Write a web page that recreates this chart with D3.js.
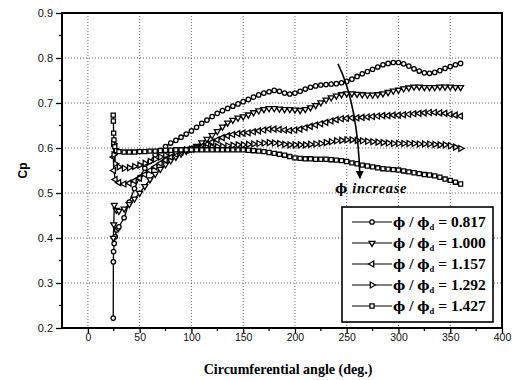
<!DOCTYPE html>
<html><head><meta charset="utf-8">
<script src="https://cdn.jsdelivr.net/npm/d3@7/dist/d3.min.js"></script>
<style>
html,body{margin:0;padding:0;background:#fff;}
svg{display:block;}
</style></head>
<body>
<script>
// ---------- DATA ----------
const xTicks = [0, 50, 100, 150, 200, 250, 300, 350, 400];
const yTicks = [0.2, 0.3, 0.4, 0.5, 0.6, 0.7, 0.8, 0.9];
const seriesLabels = ["0.817", "1.000", "1.157", "1.292", "1.427"];
const markerTypes = ["circle", "triDown", "triLeft", "triRight", "square"];

const angleGrid = [
  30,35,40,45,50,55,60,65,70,75,
  80,85,90,95,100,105,110,115,120,125,
  130,135,140,145,150,155,160,165,170,175,
  180,185,190,195,200,205,210,215,220,225,
  230,235,240,245,250,255,260,265,270,275,
  280,285,290,295,300,305,310,315,320,325,
  330,335,340,345,350,355,360];

// leading points at the tongue (~25 deg)
const startAngles0817 = [24.5, 24.6, 24.8, 25.4, 26.4, 27.8, 29.2];
const startCp0817     = [0.222, 0.347, 0.370, 0.388, 0.403, 0.418, 0.422];
const startAngles1000 = [24.6, 25.0, 25.5, 27.5];
const startCp1000     = [0.400, 0.430, 0.473, 0.462];
const startAngles1157 = [24.6, 25.0, 26.5];
const startCp1157     = [0.580, 0.550, 0.530];
const startAngles1292 = [24.6, 25.0, 26.5];
const startCp1292     = [0.610, 0.585, 0.565];
const startAngles1427 = [24.5, 24.6, 24.9, 25.2, 26.0, 27.5];
const startCp1427     = [0.673, 0.660, 0.633, 0.618, 0.603, 0.594];

const cp0817 = [
  .425,.445,.480,.510,.535,.555,.570,.585,.595,.603,
  .611,.617,.624,.631,.638,.646,.655,.662,.670,.677,
  .683,.688,.693,.698,.703,.708,.713,.718,.722,.725,
  .728,.726,.722,.720,.722,.726,.731,.735,.738,.740,
  .741,.742,.743,.745,.748,.753,.759,.765,.770,.775,
  .780,.785,.788,.790,.790,.787,.782,.776,.771,.767,
  .766,.768,.772,.777,.781,.785,.788];
const cp1000 = [
  .460,.465,.475,.487,.500,.515,.530,.542,.553,.563,
  .572,.580,.587,.593,.598,.604,.612,.620,.628,.637,
  .647,.656,.662,.667,.670,.674,.679,.683,.686,.688,
  .688,.687,.686,.686,.685,.684,.686,.690,.695,.701,
  .707,.712,.716,.719,.721,.721,.720,.719,.718,.718,
  .719,.721,.724,.727,.729,.732,.734,.736,.736,.735,
  .735,.735,.736,.736,.736,.735,.735];
const cp1157 = [
  .523,.520,.522,.527,.533,.541,.550,.558,.566,.573,
  .580,.586,.591,.595,.598,.601,.604,.608,.613,.618,
  .623,.627,.630,.632,.633,.634,.636,.638,.640,.642,
  .642,.641,.640,.639,.640,.642,.645,.648,.651,.654,
  .657,.660,.663,.665,.666,.667,.667,.668,.669,.670,
  .671,.672,.672,.673,.673,.674,.675,.676,.677,.678,
  .679,.679,.678,.677,.675,.673,.671];
const cp1292 = [
  .558,.555,.556,.559,.562,.566,.570,.575,.580,.584,
  .588,.591,.594,.596,.597,.599,.600,.601,.602,.603,
  .604,.605,.606,.607,.607,.608,.609,.610,.611,.612,
  .611,.610,.608,.607,.607,.607,.607,.608,.609,.610,
  .612,.614,.616,.617,.618,.618,.617,.616,.615,.614,
  .613,.612,.611,.610,.610,.610,.610,.610,.609,.609,
  .609,.608,.607,.607,.605,.602,.599];
const cp1427 = [
  .592,.591,.591,.591,.592,.592,.593,.593,.594,.595,
  .595,.596,.596,.596,.596,.596,.596,.596,.596,.596,
  .596,.596,.596,.596,.596,.595,.594,.593,.592,.590,
  .588,.586,.584,.581,.578,.577,.576,.576,.575,.575,
  .575,.574,.573,.572,.570,.567,.565,.562,.560,.558,
  .556,.554,.553,.552,.551,.549,.547,.545,.543,.541,
  .540,.538,.535,.531,.528,.524,.520];

// annotation anchors (data units)
const arrowPath = [[241.6, 0.787], [260.9, 0.696], [262.8, 0.533]];
const annotationAt = [238.7, 0.500];

// ---------- BUILD ----------
const startA = [startAngles0817, startAngles1000, startAngles1157, startAngles1292, startAngles1427];
const startV = [startCp0817, startCp1000, startCp1157, startCp1292, startCp1427];
const mainV = [cp0817, cp1000, cp1157, cp1292, cp1427];
const series = mainV.map((vals, i) => ({
  label: seriesLabels[i],
  marker: markerTypes[i],
  points: startA[i].map((a, j) => [a, startV[i][j]]).concat(angleGrid.map((a, j) => [a, vals[j]]))
}));

const W = 517, H = 380;
const svg = d3.select("body").append("svg").attr("width", W).attr("height", H);

const x = d3.scaleLinear().domain([-25, 400]).range([62, 502]);
const y = d3.scaleLinear().domain([0.2, 0.9]).range([328, 13]);

const sans = "'Liberation Sans', Arial, sans-serif";
const serif = "'Liberation Serif', 'Times New Roman', serif";
const phiFont = "'DejaVu Serif', serif";

// gridlines
const grid = svg.append("g").attr("stroke", "#444").attr("stroke-width", 0.8).attr("stroke-dasharray", "1,2");
grid.selectAll("line.v").data(xTicks.filter(t => t > -25 && t < 400)).enter().append("line")
  .attr("x1", d => x(d)).attr("x2", d => x(d)).attr("y1", y(0.9)).attr("y2", y(0.2));
grid.selectAll("line.h").data(yTicks.filter(t => t > 0.2 && t < 0.9)).enter().append("line")
  .attr("y1", d => y(d)).attr("y2", d => y(d)).attr("x1", x(-25)).attr("x2", x(400));

// axes
const xMinor = d3.range(-25, 401, 25).filter(v => !xTicks.includes(v) && v > -25 && v < 400);
const yMinor = d3.range(0.25, 0.9, 0.1);

const gx = svg.append("g").attr("transform", `translate(0,${y(0.2)})`)
  .call(d3.axisBottom(x).tickValues(xTicks).tickSize(5).tickPadding(1).tickSizeOuter(0));
gx.select(".domain").remove();
gx.selectAll("text").attr("font-family", sans).attr("font-size", 10.5).attr("fill", "#111");
gx.selectAll("line").attr("stroke", "#000").attr("stroke-width", 1.3);
svg.append("g").selectAll("line").data(xMinor).enter().append("line")
  .attr("x1", d => x(d)).attr("x2", d => x(d)).attr("y1", y(0.2)).attr("y2", y(0.2) + 3)
  .attr("stroke", "#000").attr("stroke-width", 1.2);

const gy = svg.append("g").attr("transform", `translate(${x(-25)},0)`)
  .call(d3.axisLeft(y).tickValues(yTicks).tickFormat(d3.format(".1f")).tickSize(6).tickPadding(3).tickSizeOuter(0));
gy.select(".domain").remove();
gy.selectAll("text").attr("font-family", sans).attr("font-size", 11).attr("fill", "#111");
gy.selectAll("line").attr("stroke", "#000").attr("stroke-width", 1.3);
svg.append("g").selectAll("line").data(yMinor).enter().append("line")
  .attr("y1", d => y(d)).attr("y2", d => y(d)).attr("x1", x(-25) - 3).attr("x2", x(-25))
  .attr("stroke", "#000").attr("stroke-width", 1.2);

// frame
svg.append("rect").attr("x", x(-25)).attr("y", y(0.9)).attr("width", x(400) - x(-25)).attr("height", y(0.2) - y(0.9))
  .attr("fill", "none").attr("stroke", "#000").attr("stroke-width", 2);

// marker factory
function addMarker(sel, type) {
  if (type === "circle") {
    sel.append("circle").attr("r", 2.2);
  } else {
    const sym = type === "square" ? d3.symbolSquare : d3.symbolTriangle;
    const size = type === "square" ? 17 : 15;
    const rot = { triDown: 180, triLeft: -90, triRight: 90, square: 0 }[type];
    sel.append("path").attr("d", d3.symbol().type(sym).size(size)()).attr("transform", `rotate(${rot})`);
  }
}

const line = d3.line().x(d => x(d[0])).y(d => y(d[1]));
const plot = svg.append("g");
series.forEach(s => {
  plot.append("path").datum(s.points).attr("d", line)
    .attr("fill", "none").attr("stroke", "#000").attr("stroke-width", 1.3);
  const m = plot.append("g").attr("fill", "#fff").attr("stroke", "#000").attr("stroke-width", 1.3);
  m.selectAll("g").data(s.points).enter().append("g")
    .attr("transform", d => `translate(${x(d[0])},${y(d[1])})`)
    .each(function () { addMarker(d3.select(this), s.marker); });
});

// arrow annotation
const [p0, p1, p2] = arrowPath.map(d => [x(d[0]), y(d[1])]);
svg.append("defs").append("marker").attr("id", "ah").attr("viewBox", "0 0 10 10")
  .attr("refX", 9).attr("refY", 5).attr("markerWidth", 5).attr("markerHeight", 6).attr("orient", "auto")
  .append("path").attr("d", "M0,0 L10,5 L0,10 Z").attr("fill", "#000");
svg.append("path").attr("d", `M${p0[0]},${p0[1]} Q${p1[0]},${p1[1]} ${p2[0]},${p2[1]}`)
  .attr("fill", "none").attr("stroke", "#000").attr("stroke-width", 1.6).attr("marker-end", "url(#ah)");

const ann = svg.append("text").attr("x", x(annotationAt[0])).attr("y", y(annotationAt[1]))
  .attr("text-anchor", "start")
  .attr("font-family", serif).attr("font-weight", "bold").attr("font-size", 14.5).attr("fill", "#000");
ann.append("tspan").attr("font-family", phiFont).attr("font-size", 13).text("ϕ");
ann.append("tspan").attr("font-style", "italic").attr("dx", 5).attr("letter-spacing", 0.6).text("increase");

// legend
const lg = svg.append("g");
const lgX = 342, lgY = 207, lgW = 151, lgH = 115;
lg.append("rect").attr("x", lgX).attr("y", lgY).attr("width", lgW).attr("height", lgH)
  .attr("fill", "#fff").attr("stroke", "#000").attr("stroke-width", 1.6);
series.forEach((s, i) => {
  const cy = lgY + 15 + i * 21;
  lg.append("line").attr("x1", lgX + 10).attr("x2", lgX + 50).attr("y1", cy).attr("y2", cy)
    .attr("stroke", "#000").attr("stroke-width", 1.2);
  const mg = lg.append("g").attr("transform", `translate(${lgX + 30},${cy})`)
    .attr("fill", "#fff").attr("stroke", "#000").attr("stroke-width", 1.3);
  addMarker(mg, s.marker);
  const t = lg.append("text").attr("x", lgX + 51).attr("y", cy + 5)
    .attr("font-family", serif).attr("font-weight", "bold").attr("font-size", 15.5).attr("fill", "#000");
  t.append("tspan").attr("font-family", phiFont).attr("font-size", 13).text("ϕ");
  t.append("tspan").text(" / ");
  t.append("tspan").attr("font-family", phiFont).attr("font-size", 13).text("ϕ");
  t.append("tspan").attr("font-size", 8.5).attr("dy", 3).text("d");
  t.append("tspan").attr("dy", -3).text(" = " + s.label);
});

// axis titles
svg.append("text").attr("x", 288).attr("y", 374).attr("text-anchor", "middle")
  .attr("font-family", serif).attr("font-weight", "bold").attr("font-size", 14).attr("fill", "#000")
  .text("Circumferential angle (deg.)");
svg.append("text").attr("transform", `translate(27,${(y(0.2) + y(0.9)) / 2}) rotate(-90)`)
  .attr("text-anchor", "middle").attr("font-family", sans).attr("font-weight", "bold")
  .attr("font-size", 12).attr("fill", "#000").text("Cp");
</script>
</body></html>
